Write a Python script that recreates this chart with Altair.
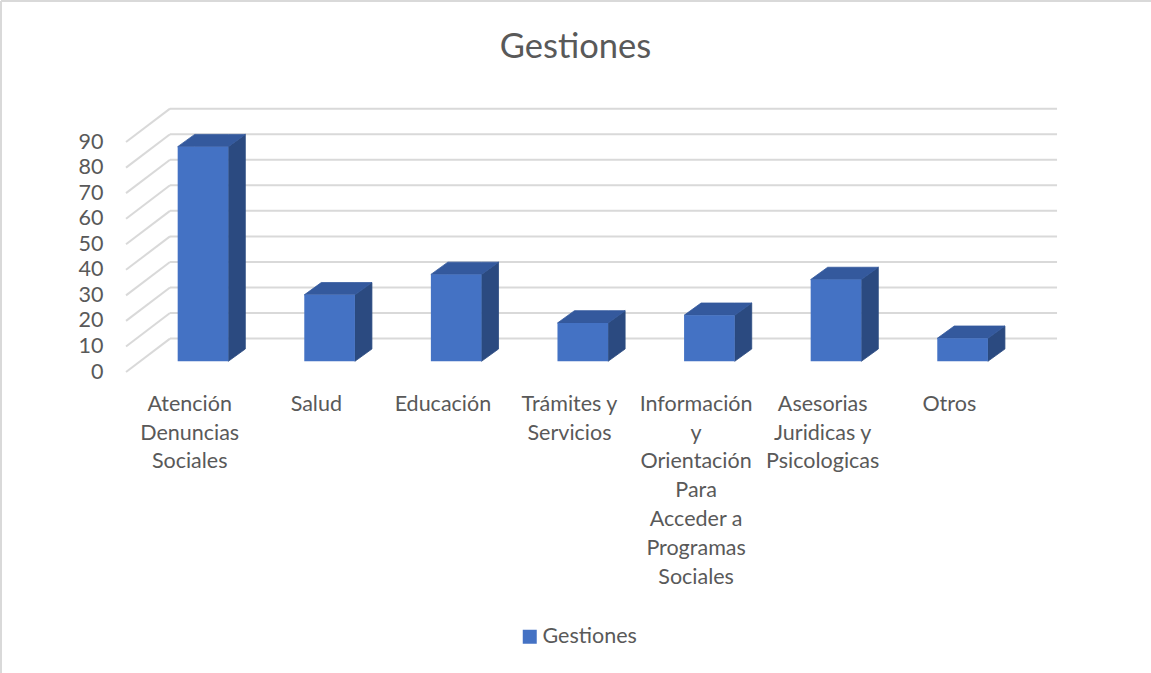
import altair as alt
import pandas as pd

# ---- data ----
categories = [
    "Atención\nDenuncias\nSociales",
    "Salud",
    "Educación",
    "Trámites y\nServicios",
    "Información\ny\nOrientación\nPara\nAcceder a\nProgramas\nSociales",
    "Asesorias\nJuridicas y\nPsicologicas",
    "Otros",
]
values = [84, 26, 34, 15, 18, 32, 9]
y_ticks = [0, 10, 20, 30, 40, 50, 60, 70, 80, 90]
series_name = "Gestiones"
title_text = "Gestiones"

# ---- 3D projection styling (in scale units) ----
PX_X = 126.6          # px per category step
PX_Y = 2.555          # px per value unit
BASE = 4.19           # bar plane baseline above front plane
HALF = 0.2            # half bar width
DXU = 17 / PX_X       # bar depth (x)
DYU = 12.3 / PX_Y     # bar depth (y)
WALL_FRONT_X = -0.608
WALL_BACK_X = -0.2607
WALL_DY = 33.4 / PX_Y
WALL_RIGHT = 6.746
LABEL_SHIFT = -0.105

W, H = 934, 272
X_DOM = [-77 / PX_X, (-77 + W) / PX_X]
Y_DOM = [0, H / PX_Y]

TXT = "#595959"
GRID = "#D9D9D9"
FRONT = "#4472C4"
TOP = "#34599D"
SIDE = "#2B4A80"
FONT = "Lato"

xs = alt.Scale(domain=X_DOM, nice=False, zero=False)
ys = alt.Scale(domain=Y_DOM, nice=False, zero=False)

Y_AXIS = alt.Axis(
    values=y_ticks, domain=False, ticks=False, tickSize=0, grid=False,
    labelOverlap=False, labelFont=FONT, labelFontSize=21.5, labelColor=TXT,
    labelPadding=23, title=None)


def X(f):
    return alt.X(f, scale=xs, axis=None)


def Y(f, **kw):
    return alt.Y(f, scale=ys, axis=Y_AXIS, **kw)


# gridlines
diag = pd.DataFrame({
    "x": [WALL_FRONT_X] * len(y_ticks),
    "x2": [WALL_BACK_X] * len(y_ticks),
    "y": y_ticks,
    "y2": [t + WALL_DY for t in y_ticks],
})
back = pd.DataFrame({
    "x": [WALL_BACK_X] * len(y_ticks),
    "x2": [WALL_RIGHT] * len(y_ticks),
    "y": [t + WALL_DY for t in y_ticks],
})

diag_layer = alt.Chart(diag).mark_rule(color=GRID, strokeWidth=2).encode(
    x=X("x:Q"), x2="x2:Q", y=Y("y:Q"), y2="y2:Q",
)
back_layer = alt.Chart(back).mark_rule(color=GRID, strokeWidth=2).encode(
    x=X("x:Q"), x2="x2:Q", y=Y("y:Q"),
)

# bars: front faces
front = pd.DataFrame({
    "x": [i - HALF for i in range(len(values))],
    "x2": [i + HALF for i in range(len(values))],
    "y": [BASE] * len(values),
    "y2": [BASE + v for v in values],
    "series": [series_name] * len(values),
})
front_layer = alt.Chart(front).mark_rect(strokeWidth=0).encode(
    x=X("x:Q"), x2="x2:Q", y=Y("y:Q"), y2="y2:Q",
    color=alt.Color("series:N", scale=alt.Scale(range=[FRONT]), legend=alt.Legend(
        title=None, orient="none", legendX=393, legendY=526, padding=0,
        symbolType="square", symbolSize=196, symbolStrokeWidth=0,
        labelFont=FONT, labelFontSize=21.5, labelColor=TXT, labelOffset=2)),
)

# top and side faces as polygons (areas)
top_rows, side_rows = [], []
for i, v in enumerate(values):
    T = BASE + v
    x0, x1 = i - HALF, i + HALF
    for xx, a, b in [(x0, T, T), (x0 + DXU, T + DYU, T), (x1, T + DYU, T), (x1 + DXU, T + DYU, T + DYU)]:
        top_rows.append({"bar": f"b{i}", "px": xx, "lo": b, "hi": a})
    for xx, a, b in [(x1, BASE, T), (x1 + DXU, BASE + DYU, T + DYU)]:
        side_rows.append({"bar": f"b{i}", "px": xx, "lo": a, "hi": b})


def face(rows, col):
    return alt.Chart(pd.DataFrame(rows)).mark_area(
        color=col, interpolate="linear", stroke=col, strokeWidth=0.8).encode(
        x=X("px:Q"), y=Y("lo:Q", stack=None), y2="hi:Q", detail="bar:N",
    )


top_layer = face(top_rows, TOP)
side_layer = face(side_rows, SIDE)

# category labels
labels = pd.DataFrame({
    "x": [i + LABEL_SHIFT for i in range(len(categories))],
    "y": [-8.5] * len(categories),
    "label": categories,
})
label_layer = alt.Chart(labels).mark_text(
    font=FONT, fontSize=21.5, color=TXT, baseline="top", align="center",
    lineBreak="\n", lineHeight=28.8).encode(
    x=X("x:Q"), y=Y("y:Q"), text="label:N",
)

# chart title as text
title_layer = alt.Chart(pd.DataFrame({"t": [title_text], "x": [(575.5 - 203) / PX_X], "y": [(371.7 - 57.3) / PX_Y]})).mark_text(
    font=FONT, fontSize=34.5, color=TXT, baseline="alphabetic", align="center").encode(
    x=X("x:Q"), y=Y("y:Q"), text="t:N")

# outer border (top and left)
border_top = alt.Chart(pd.DataFrame({"a": [0]})).mark_rule(color=GRID, strokeWidth=2).encode(
    x=alt.value(-125), x2=alt.value(1151 - 126), y=alt.value(-99))
border_left = alt.Chart(pd.DataFrame({"a": [0]})).mark_rule(color=GRID, strokeWidth=2).encode(
    x=alt.value(-125), y=alt.value(-99), y2=alt.value(673 - 100))

chart = alt.layer(
    border_top, border_left, diag_layer, back_layer, side_layer, top_layer,
    front_layer, label_layer, title_layer
).properties(
    width=W, height=H,
    padding={"left": 126, "top": 100, "right": 1151 - 126 - W, "bottom": 673 - 100 - H},
    autosize=alt.AutoSizeParams(type="none"),
    background="white",
).configure_view(strokeWidth=0).configure_axis(labelOverlap=False)

chart.save("out.html", embed_options={"renderer": "svg", "actions": False})
